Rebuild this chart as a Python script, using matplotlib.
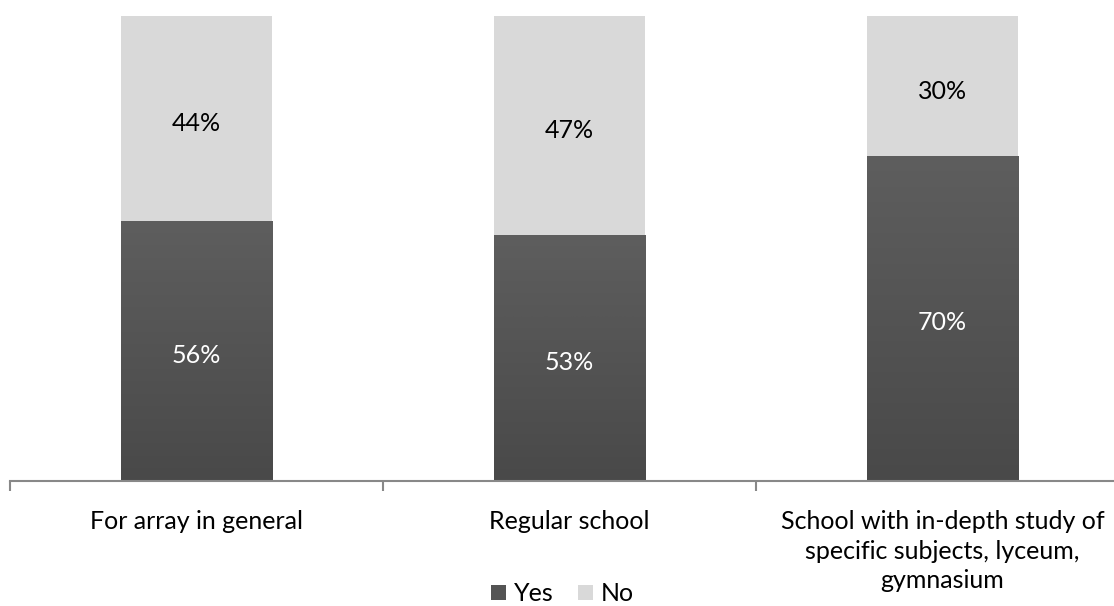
import numpy as np
import matplotlib.pyplot as plt
from matplotlib.patches import Patch

categories = ["For array in general", "Regular school",
              "School with in-depth study of\nspecific subjects, lyceum,\ngymnasium"]
yes = [56, 53, 70]
no = [44, 47, 30]

plt.rcParams['font.family'] = ['Lato', 'DejaVu Sans']

fig = plt.figure(figsize=(11.14, 6.06), dpi=100)
ax = fig.add_axes([10/1114, 125/606, 1119/1114, 465/606])

x = np.arange(len(categories))
w = 0.405
dark = '#545454'
light = '#d9d9d9'

bars_yes = ax.bar(x, yes, w, color=dark, zorder=2)
bars_no = ax.bar(x, no, w, bottom=yes, color=light, zorder=2)

# slight vertical gradient on the dark bars
grad = np.linspace(0, 1, 256).reshape(-1, 1)
cm = plt.matplotlib.colors.LinearSegmentedColormap.from_list('g', ['#494949', '#5e5e5e'])
for b in bars_yes:
    bx, by = b.get_x(), b.get_y()
    im = ax.imshow(grad, extent=[bx, bx + b.get_width(), by, by + b.get_height()],
                   cmap=cm, aspect='auto', origin='lower', zorder=2.5)
    im.set_clip_path(b)

fs = 18
for i in range(len(categories)):
    ax.text(x[i], yes[i] / 2 - 1, f"{yes[i]}%", ha='center', va='center',
            color='white', fontsize=fs, zorder=3)
    ax.text(x[i], yes[i] + no[i] / 2 - 1.2, f"{no[i]}%", ha='center', va='center',
            color='black', fontsize=fs, zorder=3)

ax.set_xlim(-0.5, 2.5)
ax.set_ylim(0, 100)
ax.set_xticks([-0.5, 0.5, 1.5, 2.5])
ax.set_xticklabels([])
ax.set_xticks(x, minor=True)
ax.set_xticklabels(categories, minor=True, fontsize=fs, linespacing=1.35)
ax.tick_params(axis='x', which='minor', length=0, pad=21)
ax.tick_params(axis='x', which='major', length=7, color='#888888', width=1.5)
ax.set_yticks([])
for s in ['top', 'right', 'left']:
    ax.spines[s].set_visible(False)
ax.spines['bottom'].set_color('#888888')
ax.spines['bottom'].set_linewidth(1.5)

handles = [Patch(facecolor=dark, label='Yes'), Patch(facecolor=light, label='No')]
fig.legend(handles=handles, loc='lower center', bbox_to_anchor=(0.505, -0.036), ncol=2,
           frameon=False, fontsize=fs, handlelength=0.6, handleheight=0.6,
           handletextpad=0.3, columnspacing=1.0)

fig.savefig('out.png', dpi=100)
